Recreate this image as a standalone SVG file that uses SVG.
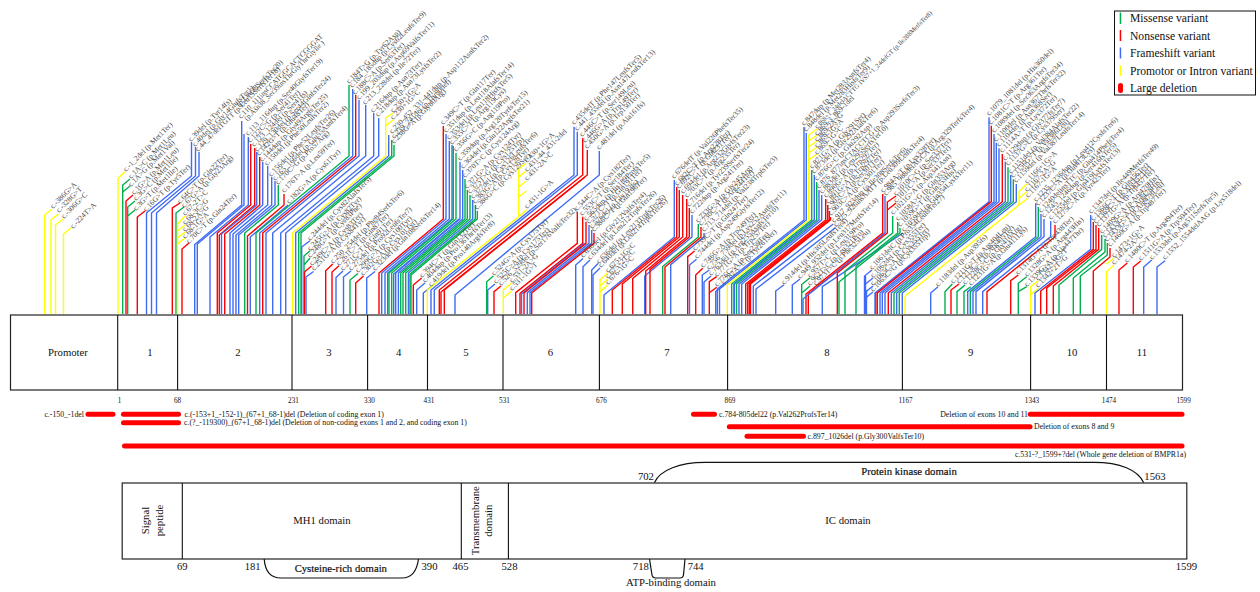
<svg xmlns="http://www.w3.org/2000/svg" width="1260" height="592" viewBox="0 0 1260 592">
<style>
text{font-family:"Liberation Serif","Times New Roman",serif;fill:#111}
.c path,path.m,path.n,path.f,path.p{fill:none;stroke-width:1.4}
.m{stroke:#00B050}.n{stroke:#FF0000}.f{stroke:#3F6CF5}.p{stroke:#FFFF00}
.l text{font-size:7.5px;fill:#444}
.l text.long{font-size:6.5px}
.box{fill:#fff;stroke:#222;stroke-width:1.2}
.dv{stroke:#111;stroke-width:1.1;fill:none}
.t{font-size:10.7px;text-anchor:middle}
.s{font-size:7.8px}
.sm{font-size:7.2px;text-anchor:middle}
.bar{fill:#FF0000}
.arc{fill:none;stroke:#111;stroke-width:1.2}
</style>
<rect width="1260" height="592" fill="#fff"/>
<g id="connectors" class="c">
<path class="p" d="M44.7 314V215L52 209"/><path class="p" d="M51 314V220L58.500 214"/><path class="p" d="M55.500 314V225L63 219"/><path class="p" d="M63.500 314V234L71 228"/>
<path class="p" d="M118 314V178L125 172"/><path class="m" d="M122.700 314V185L130 179"/><path class="m" d="M122.700 192L130 186"/><path class="n" d="M126 314V201L133 195"/><path class="m" d="M127.700 314V207L135 201M127.700 216L135 210"/><path class="n" d="M137.300 314V217L145 211"/>
<path class="f" d="M146.500 314V213L191.500 176V142"/><path class="f" d="M151.500 314V213L195.500 176V147"/><path class="f" d="M156.500 314V213L199 176V152"/>
<path class="n" d="M172.300 314V208L180 203"/><path class="m" d="M176 314V213L184 207"/><path class="p" d="M177.500 314V224L185 216M177.500 231L185 225M177.500 238L185 232M177.500 244L185 238"/><path class="n" d="M182 314V249L189 243"/>
<path class="f" d="M194.700 314V244.500L241.700 205V121"/><path class="f" d="M197.300 314V244L244 205V134"/><path class="f" d="M210 314V237L248.300 205V137"/><path class="n" d="M217.300 314V233L250.700 205V144"/><path class="n" d="M219.300 314V235L254.700 205V148"/><path class="f" d="M221.500 314V234L256.700 205V152"/><path class="n" d="M224.700 314V234L259.700 205V157"/><path class="f" d="M230 314V233L262.700 205V162"/><path class="f" d="M233 314V234L267.700 205V166"/><path class="f" d="M236 314V235L271.700 205V177"/><path class="f" d="M238.700 314V235L275 205V181"/><path class="m" d="M244.700 314V233L278.300 205V185"/><path class="n" d="M247.500 314V236L284 205V194"/><path class="f" d="M250.300 314V237L288 205"/>
<path class="m" d="M256 314V233L349 156V85"/><path class="f" d="M259.700 314V233L352.700 156V89"/><path class="n" d="M262.700 314V233L355.700 156V95"/><path class="f" d="M266 314V233L359 156V100"/><path class="f" d="M272.700 314V233L365.700 156V105"/><path class="f" d="M280.700 314V233L373.700 156V113"/><path class="f" d="M285.700 314V233L378.700 156V118"/><path class="p" d="M292.700 314V233L385.700 156V118L393 113M385.700 126L393 120"/><path class="f" d="M295.700 314V233L388.700 156V135"/><path class="m" d="M298.700 314V233L391.700 156V140"/><path class="m" d="M301 314V233L394 156V145"/>
<path class="f" d="M301.700 314V247L310 240.700"/><path class="m" d="M304 314V256L310 250.700M304 265L310 258"/><path class="n" d="M304.500 314V272L311.500 266"/><path class="f" d="M306 314V277L313.500 271.500"/>
<path class="n" d="M325.700 314V270.700L332.700 264"/><path class="n" d="M332 314V272L339 265.700"/><path class="f" d="M336 314V277.500L343 271"/><path class="f" d="M343.500 314V277L351 271"/><path class="m" d="M350 314V280L358 273.500"/><path class="n" d="M355.700 314V283L363.500 276"/><path class="f" d="M366.700 314V278L375 271.500"/>
<path class="n" d="M379 314V273L443.300 219V126"/><path class="f" d="M381.700 314V273L446 219V134"/><path class="f" d="M385 314V273L449.300 219V141"/><path class="f" d="M387.700 314V273L452 219V145"/><path class="m" d="M389 314V273L453.300 219V146"/><path class="m" d="M391.700 314V273L456 219V153"/><path class="f" d="M393.700 314V274L459 219"/><path class="f" d="M395.700 314V273L460 219V162"/><path class="f" d="M398.400 314V273L462.700 219V170"/><path class="m" d="M400.700 314V273L465 219V179"/><path class="m" d="M403 314V273L467.300 219V190"/><path class="m" d="M405.700 314V273L470 219V195"/><path class="f" d="M408.400 314V273L472.700 219V200"/><path class="m" d="M410 314V274L475.300 219V205"/><path class="m" d="M411 314V275L477.300 219V211"/>
<path class="n" d="M413.300 314V285L421.700 278"/><path class="f" d="M416.700 314V290L425 283"/><path class="f" d="M423.300 314V293L431 286.700"/>
<path class="p" d="M427.300 314V290L518.700 216.700V169L526.200 163M518.700 177L526.200 171M518.700 187L526.200 181M518.700 197L526.200 191M518.700 216.700L526.700 209.700"/>
<path class="f" d="M431 314V290L574 175V126.700"/><path class="f" d="M434.300 314V290L577.300 175V131.700"/><path class="n" d="M439.300 314V290L582.700 175V138"/><path class="n" d="M441 314V292L585 177"/><path class="n" d="M444.300 314V290L587.300 175V150"/><path class="f" d="M455 314V295L599.300 175V151"/>
<path class="m" d="M486.700 314V281.700L493.300 276"/><path class="f" d="M487.700 314V290L495 284"/><path class="n" d="M494 314V291.700L501 286"/><path class="p" d="M503.300 314V290L511.700 283M503.300 297.700L511.700 291"/>
<path class="n" d="M515.700 314V292.600L577.300 243.300V211.700"/><path class="n" d="M520 314V293.400L582.700 243.300V216.700"/><path class="f" d="M521.500 314V294L584.500 243.300"/><path class="n" d="M524 314V293L586 243.300V221.700"/><path class="f" d="M527.300 314V292.600L589 243.300V225"/><path class="f" d="M530 314V292.600L591.700 243.300V230"/><path class="n" d="M531.700 314V293L594 243.300V233"/>
<path class="f" d="M575.700 314V265L583 258.500"/><path class="f" d="M583 314V266.700L590 260"/><path class="f" d="M591.700 314V270L598.300 263.300"/><path class="f" d="M593 314V275L600 268"/>
<path class="p" d="M600 314V280L607.700 272.700M600 286L607.700 279M600 292L607.700 285"/>
<path class="f" d="M604 314V295L674.300 237V180"/><path class="n" d="M612.300 314V290L676.700 237V187"/><path class="n" d="M622.300 314V284L679.300 237V190"/><path class="n" d="M632.700 314V278.500L682.700 237V195"/><path class="f" d="M644.700 314V276L692 237V215"/><path class="n" d="M645.700 314V271L686.700 237V199"/><path class="n" d="M650 314V269.600L689.300 237V208"/><path class="m" d="M662.700 314V266.500L698.300 237V224"/><path class="n" d="M665 314V267L701 237V227"/><path class="f" d="M670.700 314V264.600L704 237V233"/>
<path class="n" d="M687.700 314V256.700L694.500 251"/><path class="f" d="M689.500 314V265L696.500 259.300"/><path class="n" d="M695.700 314V275L702.700 268.300"/><path class="f" d="M702.300 314V275L709.300 270"/><path class="f" d="M704 314V282L711 276"/><path class="n" d="M709.300 314V281.700L716.700 276.700M709.300 292.700L716.700 287.300"/><path class="f" d="M715.700 314V291.700L724 285"/>
<path class="f" d="M717.300 314V289L804 220V127"/><path class="f" d="M719.500 314V289L806.300 220V133"/><path class="p" d="M727.300 314V285L808.700 220V135L817 129M808.700 141L817 135M808.700 147L817 141M808.700 153L817 147M808.700 160L817 154"/><path class="m" d="M731.700 314V284L811.700 220V170"/><path class="m" d="M734 314V284L814 220"/><path class="f" d="M734.300 314V284L814.300 220V175"/><path class="m" d="M736.500 314V284L816.700 220V182"/><path class="f" d="M739 314V284L819 220V190"/><path class="f" d="M741.700 314V284L821.700 220V195"/><path class="n" d="M745.700 314V284L825.700 220V199"/><path class="n" d="M747.700 314V284L827.700 220V205"/><path class="n" d="M749.300 314V284L829.300 220V211"/><path class="n" d="M750.500 314V284L830.500 220V217"/><path class="f" d="M753.300 314V286L833.300 224"/><path class="f" d="M756 314V289L835 228"/>
<path class="f" d="M775.700 314V291L784 284.700"/><path class="f" d="M792.300 314V285L800 279"/><path class="m" d="M801.700 314V284.500L810 277.700M801.700 293L810 286"/>
<path class="n" d="M806 314V294L882.700 233V194"/><path class="n" d="M808.300 314V294L885 233"/><path class="f" d="M803 314V299L885 233V196"/><path class="f" d="M822.300 314V286.700L903 233"/><path class="n" d="M837.300 314V273L887.300 233V202L896 196M887.300 210L896 203"/><path class="m" d="M839 314V282L900 233V228"/><path class="m" d="M845 314V271L892.700 233V216"/><path class="m" d="M856 314V266L897.700 233V222"/>
<path class="f" d="M864.500 314V276L872 270M865.500 284L873 278M865.500 292L873 286M865.500 298L873 292"/><path class="f" d="M865.500 314V276"/><path class="f" d="M866.500 314V290"/>
<path class="n" d="M875.700 314V293L989.700 201.700"/>
<path class="f" d="M875 314V293L989 201.700V117.300"/><path class="n" d="M877.300 314V293L991.300 201.700V125.700"/><path class="f" d="M880 314V293L994 201.700V134"/><path class="f" d="M882.300 314V293L996.300 201.700V142.700"/><path class="f" d="M885 314V293L999 201.700V148.300"/><path class="n" d="M888.300 314V293L1002.300 201.700V154"/><path class="f" d="M891.300 314V293L1005.300 201.700V161.700"/><path class="m" d="M894 314V293L1008 201.700V167.300"/><path class="f" d="M896.700 314V293L1010.700 201.700V175"/><path class="m" d="M899.300 314V293L1013.300 201.700V179.300"/><path class="f" d="M902.300 314V293L1016.300 201.700V184"/><path class="p" d="M905 314V296L1019 205V191.700L1026.700 184M1019 198.300L1026.700 191.700M1019 205L1028 198.300"/>
<path class="f" d="M930.700 314V293L938 286.700"/><path class="m" d="M945 314V291.700L952.300 284"/><path class="n" d="M951 314V290L959 284"/><path class="m" d="M957 314V291.700L965 285"/><path class="m" d="M964 314V291.700L970.700 286.700"/>
<path class="f" d="M967.700 314V291.700L1035.700 236.700V203.300"/><path class="m" d="M970.300 314V291.700L1038.300 236.700V207"/><path class="f" d="M973 314V291.700L1041 236.700V214"/><path class="f" d="M976 314V291.700L1044 236.700V219"/><path class="f" d="M982.700 314V291.700L1050.700 236.700V221"/><path class="n" d="M987 314V291.700L1055 236.700V225"/>
<path class="n" d="M1010.700 314V280.700L1018.300 275"/><path class="m" d="M1018.300 314V283.300L1026.700 276.700M1018.300 291.700L1026.700 286.700"/><path class="p" d="M1030.700 314V286.700L1038.300 280.700M1030.700 295L1038.300 288.300"/>
<path class="f" d="M1035 314V293L1090.700 249.300V215"/><path class="n" d="M1040.700 314V291L1093.300 249.300V222"/><path class="n" d="M1046.700 314V288L1096 249.300V225"/><path class="n" d="M1053.300 314V286L1098.700 249.300V228"/><path class="m" d="M1059 314V285L1101.700 249.300V235"/><path class="m" d="M1073.300 314V278L1105 252V239"/><path class="m" d="M1080.300 314V276L1107.300 255V243"/><path class="n" d="M1093.300 314V271L1110 257V248"/>
<path class="p" d="M1106.300 314V272L1114 265M1106.300 264L1114 258"/><path class="n" d="M1119 314V270L1127.300 263"/><path class="n" d="M1133.300 314V267L1140.700 261"/><path class="f" d="M1143.700 314V267L1151.700 260"/><path class="f" d="M1157 314V267L1165 260.700"/>
</g>
<g id="variant-labels" class="l">
<text transform="translate(53 209)rotate(-45)">c.-386G&gt;A</text><text transform="translate(59 213)rotate(-45)">c.-328G&gt;T</text><text transform="translate(64 219)rotate(-45)">c.-306G&gt;C</text><text transform="translate(73 229)rotate(-45)">c.-224T&gt;A</text>
<text transform="translate(126 172)rotate(-45)">c.-1_2del (p.Met1Ter)</text><text transform="translate(131 179)rotate(-45)">c.1A&gt;C (p.Met1Leu)</text><text transform="translate(131 187)rotate(-45)">c.1A&gt;G (p.Met1Val)</text><text transform="translate(134 195)rotate(-45)">c.1G&gt;A (p.Met1Leu)</text><text transform="translate(136 201)rotate(-45)">c.3G&gt;C (p.Met1Ile)</text><text transform="translate(136 211)rotate(-45)">c.3G&gt;T (p.Met1Ile)</text><text transform="translate(146 212)rotate(-45)">c.16G&gt;T (p.Tyr5Ter)</text>
<text transform="translate(191 142)rotate(-45)">c.39del (p.Tyr14fs)</text><text transform="translate(195 147)rotate(-45)">c.40del (p.Gly14GlufsTer1)</text><text transform="translate(198 152)rotate(-45)">c.44_47delTGTT (p.Leu15SerfsTer18)</text>
<text transform="translate(180 204)rotate(-45)">c.64C&gt;T (p.Gln22Ter)</text><text transform="translate(184 208)rotate(-45)">c.67G&gt;A (p.Gly23Arg)</text><text transform="translate(185 216)rotate(-45)">c.67-2T&gt;C</text><text transform="translate(185 225)rotate(-45)">c.68-3C&gt;G</text><text transform="translate(185 232)rotate(-45)">c.68-2A&gt;G</text><text transform="translate(185 239)rotate(-45)">c.68-1G&gt;A</text><text transform="translate(189 244)rotate(-45)">c.70C&gt;T (p.Gln24Ter)</text>
<text transform="translate(241 119)rotate(-45)" textLength="116" lengthAdjust="spacingAndGlyphs">c.110_111insCCATGGCACTCGGGAT</text><text transform="translate(247 121)rotate(-45)" textLength="110" lengthAdjust="spacingAndGlyphs">(p.Asn38_Ser39insThrGlyThrGlyIle )</text><text transform="translate(239 107)rotate(-45)">(p.Leu38SerfsTer20)</text>
<text transform="translate(248 136)rotate(-45)">c.113_116dup (p.Ser40GlyfsTer19)</text><text transform="translate(250 143)rotate(-45)">c.122C&gt;G (p.Ser41Ter)</text><text transform="translate(254 147)rotate(-45)">c.123_124del (p.Ser41fs)</text><text transform="translate(257 152)rotate(-45)">c.129_130del (p.Ser44GlnfsTer24)</text><text transform="translate(259 156)rotate(-45)">c.142G&gt;T (p.Glu48Ter)</text><text transform="translate(262 162)rotate(-45)">c.144dup (p.Gly49ArgfsTer25)</text><text transform="translate(267 166)rotate(-45)">c.150del (p.Phe50LeufsTer2)</text><text transform="translate(271 177)rotate(-45)">c.156del (p.Phe52LeufsTer26)</text><text transform="translate(275 181)rotate(-45)">c.165_166del (p.Glu55AsnfsTer4)</text><text transform="translate(278 185)rotate(-45)">c.170C&gt;G (p.Pro57Arg)</text><text transform="translate(284 193)rotate(-45)">c.176T&gt;A (p.Leu59Ter)</text><text transform="translate(289 204)rotate(-45)">c.182G&gt;A (p.Cys61Tyr)</text>
<text transform="translate(349 84)rotate(-45)">c.184T&gt;G (p.Tyr62Asp)</text><text transform="translate(352 88)rotate(-45)">c.184_185dup (p.Cys62LeufsTer9)</text><text transform="translate(355 95)rotate(-45)">c.188C&gt;A (p.Ser63Ter)</text><text transform="translate(359 100)rotate(-45)">c.199_203dup (p.Asp69ValfsTer11)</text><text transform="translate(365 105)rotate(-45)">c.213_228del (p.Ile72Ter)</text><text transform="translate(373 113)rotate(-45)">c.216dup (p.Asn73Ter)</text><text transform="translate(378 117)rotate(-45)">c.218dup (p.Asn73LysfsTer2)</text>
<text transform="translate(393 113)rotate(-45)">c.230+1G&gt;A</text><text transform="translate(393 120)rotate(-45)">c.230+1G&gt;C</text><text transform="translate(392 134)rotate(-45)">c.230-452_331-441dup (p.Asp112AsnfsTer2)</text><text transform="translate(394 139)rotate(-45)">c.239_241del (p.Thr80del)</text><text transform="translate(394 144)rotate(-45)">c.238G&gt;A (p.Gly80Arg)</text>
<text transform="translate(310 241)rotate(-45)">c.244del (p.Cys82AlafsTer5)</text><text transform="translate(310 251)rotate(-45)">c.245G&gt;A (p.Cys82Tyr)</text><text transform="translate(310 258)rotate(-45)">c.248G&gt;T (p.Cys83Phe)</text><text transform="translate(312 266)rotate(-45)">c.249C&gt;A (p.Cys83Ter)</text><text transform="translate(314 271)rotate(-45)">c.251G&gt;A (p.Cys84Tyr)</text>
<text transform="translate(333 264)rotate(-45)">c.250_254del (p.Phe84SerfsTer6)</text><text transform="translate(339 266)rotate(-45)">c.261C&gt;T (p.Gln87Ter)</text><text transform="translate(343 271)rotate(-45)">c.271C&gt;T (p.Gln91Ter)</text><text transform="translate(351 271)rotate(-45)">c.275del (p.Pro92LeufsTer7)</text><text transform="translate(358 273)rotate(-45)">c.299G&gt;A (p.Cys100Tyr)</text><text transform="translate(363 276)rotate(-45)">c.302G&gt;A (p.Cys101Tyr)</text><text transform="translate(375 271)rotate(-45)">c.323del (p.Gln108SerfsTer14)</text>
<text transform="translate(443 125)rotate(-45)">c.349C&gt;T (p.Gln117Ter)</text><text transform="translate(446 133)rotate(-45)">c.351dup (p.Leu118AlafsTer14)</text><text transform="translate(449 140)rotate(-45)">c.353del (p.Leu118HisfsTer5)</text><text transform="translate(452 145)rotate(-45)">c.355C&gt;T (p.Arg119Cys)</text><text transform="translate(456 152)rotate(-45)">c.356G&gt;C (p.Arg119Pro)</text><text transform="translate(460 161)rotate(-45)">c.359dup (p.Arg120TyrfsTer15)</text><text transform="translate(463 169)rotate(-45)">c.364del (p.Glu122ArgfsTer21)</text><text transform="translate(465 178)rotate(-45)">c.370T&gt;C (p.Cys124Arg)</text><text transform="translate(467 189)rotate(-45)">c.371G&gt;A (p.Cys124Tyr)</text><text transform="translate(470 194)rotate(-45)">c.375T&gt;G (p.Cys125Trp)</text><text transform="translate(473 199)rotate(-45)">c.377del (p.Cys126LeufsTer6)</text><text transform="translate(475 204)rotate(-45)">c.383G&gt;A (p.Cys128Tyr)</text><text transform="translate(477 210)rotate(-45)">c.386G&gt;C (p.Cys129Ser)</text>
<text transform="translate(422 278)rotate(-45)">c.394C&gt;T (p.Gln132Ter)</text><text transform="translate(425 283)rotate(-45)">c.404dup (p.Pro136ThrfsTer13)</text><text transform="translate(431 287)rotate(-45)">c.419del (p.Pro140ArgfsTer8)</text>
<text transform="translate(527 163)rotate(-45)">c.430+1G&gt;A</text><text transform="translate(527 172)rotate(-45)">c.431-44_431-2del</text><text transform="translate(527 181)rotate(-45)">c.431-2A&gt;C</text><text transform="translate(527 209)rotate(-45)">c.431-1G&gt;A</text>
<text transform="translate(574 125)rotate(-45)">c.435delT (p.Phe147LeufsTer5)</text><text transform="translate(577 131)rotate(-45)">c.441_455del (p.Asn147LeufsTer13)</text><text transform="translate(582 137)rotate(-45)">c.446C&gt;T (p.Ser149Leu)</text><text transform="translate(585 143)rotate(-45)">c.446G&gt;A (p.Trp149Ter)</text><text transform="translate(587 149)rotate(-45)">c.450G&gt;A (p.Trp150Ter)</text><text transform="translate(599 150)rotate(-45)">c.481del (p.Ala161fs)</text>
<text transform="translate(494 276)rotate(-45)">c.524G&gt;A (p.Cys175Tyr)</text><text transform="translate(496 284)rotate(-45)">c.525C&gt;A (p.Cys175Ter)</text><text transform="translate(501 286)rotate(-45)">c.526_529del (p.Ser176ValfsTer32)</text><text transform="translate(512 283)rotate(-45)">c.531-2A&gt;G</text><text transform="translate(512 291)rotate(-45)">c.531-1G&gt;T</text>
<text transform="translate(577 211)rotate(-45)">c.544C&gt;A (p.Cys182Ter)</text><text transform="translate(582 216)rotate(-45)">c.553C&gt;T (p.Ser184Ter)</text><text transform="translate(586 221)rotate(-45)">c.565dup (p.His189ProfsTer5)</text><text transform="translate(589 224)rotate(-45)">c.571C&gt;T (p.Gln191Ter)</text><text transform="translate(592 229)rotate(-45)">c.576del (p.Gly193fs)</text><text transform="translate(594 232)rotate(-45)">c.586C&gt;T (p.Gln196Ter)</text>
<text transform="translate(583 258)rotate(-45)">c.630del (p.Gly212ValfsTer4)</text><text transform="translate(590 260)rotate(-45)">c.634del (p.Leu212TrpfsTer26)</text><text transform="translate(599 264)rotate(-45)">c.636del (p.Leu213TrpfsTer26)</text><text transform="translate(601 268)rotate(-45)">c.640del (p.Leu214TrpfsTer26)</text>
<text transform="translate(608 273)rotate(-45)">c.675+1G&gt;C</text><text transform="translate(608 279)rotate(-45)">c.675+2T&gt;C</text><text transform="translate(608 285)rotate(-45)">c.676-1G&gt;C</text>
<text transform="translate(674 179)rotate(-45)">c.676delT (p.Val226PhefsTer35)</text><text transform="translate(677 186)rotate(-45)">c.682C&gt;T (p.Arg228Ter)</text><text transform="translate(679 189)rotate(-45)">c.692C&gt;T (p.Gln231Ter)</text><text transform="translate(683 194)rotate(-45)">c.694del (p.Arg232GlyfsTer23)</text><text transform="translate(687 198)rotate(-45)">c.703C&gt;T (p.Arg235Ter)</text><text transform="translate(689 207)rotate(-45)">c.716del (p.Tyr239SerfsTer24)</text><text transform="translate(692 214)rotate(-45)">c.722dup (p.Arg241Ter)</text><text transform="translate(698 223)rotate(-45)">c.733G&gt;A (p.Gly245Arg)</text><text transform="translate(701 226)rotate(-45)">c.730C&gt;T (p.Arg244Ter)</text><text transform="translate(704 232)rotate(-45)">c.713_714del (p.Val238TrpfsTer3)</text>
<text transform="translate(695 251)rotate(-45)">c.739C&gt;T (p.Gln247Ter)</text><text transform="translate(697 259)rotate(-45)">c.744del (p.Asp249GlyfsTer12)</text><text transform="translate(703 268)rotate(-45)">c.746G&gt;A (p.Trp249Ter)</text><text transform="translate(709 270)rotate(-45)">c.756_759del (p.Lys252AsnfsTer11)</text><text transform="translate(711 276)rotate(-45)">c.763del (p.Arg255AsnfsTer10)</text><text transform="translate(717 277)rotate(-45)">c.771G&gt;A (p.Trp257Ter)</text><text transform="translate(717 287)rotate(-45)">c.776C&gt;A (p.Ser259Ter)</text><text transform="translate(724 285)rotate(-45)">c.782A&gt;C (p.Tyr261Ser)</text>
<text transform="translate(804 126)rotate(-45)">c.847dup (p.Met283AsnfsTer4)</text><text transform="translate(806 132)rotate(-45)">c.848del (p.Met283HisfsTer9)</text><text class="long" transform="translate(817 129)rotate(-45)">c.868+1_24delACTTG IVS7+1_24delGT (p.Ile288MetfsTer8)</text><text transform="translate(817 136)rotate(-45)">c.869-3_869-1del</text><text transform="translate(817 142)rotate(-45)">c.869-2A&gt;G</text><text transform="translate(817 148)rotate(-45)">c.869-1G&gt;A</text><text transform="translate(817 155)rotate(-45)">c.869-1G&gt;C</text><text transform="translate(812 169)rotate(-45)">c.871G&gt;A (p.Gly291Ser)</text><text transform="translate(814 174)rotate(-45)">c.873del (p.Gly292AlafsTer6)</text><text transform="translate(817 181)rotate(-45)">c.876G&gt;C (p.Glu292Asp)</text><text transform="translate(819 189)rotate(-45)" textLength="143" lengthAdjust="spacingAndGlyphs">c.876_877insCTACCTCG (p.Asp293SerfsTer3)</text><text transform="translate(822 194)rotate(-45)">c.883del (p.Leu295SerfsTer10)</text><text transform="translate(826 198)rotate(-45)">c.890G&gt;A (p.Trp297Ter)</text><text transform="translate(828 204)rotate(-45)">c.891G&gt;A (p.Trp297Ter)</text><text transform="translate(829 210)rotate(-45)">c.902C&gt;A (p.Ser301Ter)</text><text transform="translate(831 216)rotate(-45)">c.903C&gt;A (p.Cys301Ter)</text><text transform="translate(834 223)rotate(-45)">c.917_923dup (p.Ile308SerfsTer6)</text><text transform="translate(836 227)rotate(-45)">c.925_926insAATT (p.Leu309LeufsTer4)</text>
<text transform="translate(784 285)rotate(-45)">c.914del (p.His305LeufsTer4)</text><text transform="translate(800 279)rotate(-45)">c.949_952del (p.Leu317MetfsTer14)</text><text transform="translate(810 278)rotate(-45)">c.957T&gt;C (p.Leu319Pro)</text><text transform="translate(810 286)rotate(-45)">c.962T&gt;C (p.Leu321Pro)</text><text transform="translate(816 286)rotate(-45)">c.973T&gt;C (p.Phe325Leu)</text>
<text transform="translate(883 193)rotate(-45)">c.984A&gt;T (p.Lys328Ter)</text><text transform="translate(886 196)rotate(-45)">c.985_988delAGCA (p.Arg329TerfsTer4)</text><text transform="translate(896 196)rotate(-45)">c.1010C&gt;G (p.Ser337Ter)</text><text transform="translate(896 203)rotate(-45)">c.1011C&gt;A (p.Ser337Ter)</text><text transform="translate(893 215)rotate(-45)">c.1021G&gt;A (p.Asp341Asn)</text><text transform="translate(898 221)rotate(-45)">c.1058A&gt;G (p.Gln353Arg)</text><text transform="translate(900 227)rotate(-45)">c.1059G&gt;T (p.Gln353His)</text><text transform="translate(904 232)rotate(-45)">c.1059del (p.Gln354LysfsTer11)</text>
<text transform="translate(872 270)rotate(-45)">c.1061delC (p.Pro354LeufsTer27)</text><text transform="translate(873 278)rotate(-45)">c.1062del (p.Cys355Ter)</text><text transform="translate(873 286)rotate(-45)">c.1065C&gt;A (p.Cys355Ter)</text><text transform="translate(873 292)rotate(-45)">c.1065C&gt;G (p.Cys355Trp)</text>
<text transform="translate(989 116)rotate(-45)">c.1079_1081del (p.His360del)</text><text transform="translate(991 125)rotate(-45)">c.1081C&gt;T (p.Arg361Ter)</text><text transform="translate(994 133)rotate(-45)">c.1089del (p.Ser363ArgfsTer34)</text><text transform="translate(996 142)rotate(-45)">c.1100del (p.Asn367ThrfsTer32)</text><text transform="translate(999 147)rotate(-45)">c.1104del (p.Asn368Ser)</text><text transform="translate(1002 153)rotate(-45)">c.1114A&gt;T (p.Lys372Ter)</text><text transform="translate(1005 161)rotate(-45)">c.1129dup (p.Gly377fsTer7)</text><text transform="translate(1008 166)rotate(-45)">c.1137G&gt;C (p.Cys379Ser)</text><text transform="translate(1011 174)rotate(-45)">c.1151del (p.Val384AlafsTer22)</text><text transform="translate(1013 178)rotate(-45)">c.1156G&gt;T (p.Val386Leu)</text><text transform="translate(1016 183)rotate(-45)">c.1159del (p.Val387LeufsTer14)</text><text transform="translate(1027 184)rotate(-45)">c.1166+1G&gt;A</text><text transform="translate(1027 192)rotate(-45)">c.1167-2A&gt;G</text><text transform="translate(1028 198)rotate(-45)">c.1167-1G&gt;A</text>
<text transform="translate(938 287)rotate(-45)">c.1183del (p.Asp395fs)</text><text transform="translate(953 284)rotate(-45)">c.1211G&gt;T (p.Arg404Leu)</text><text transform="translate(959 284)rotate(-45)">c.1213C&gt;T (p.Arg405Ter)</text><text transform="translate(965 285)rotate(-45)">c.1228G&gt;C (p.Gly410Arg)</text><text transform="translate(971 286)rotate(-45)">c.1231G&gt;A (p.Glu411Lys)</text>
<text transform="translate(1036 202)rotate(-45)">c.1235_1236dup (p.Leu412CysfsTer6)</text><text transform="translate(1038 206)rotate(-45)">c.1237C&gt;A (p.Gln413Lys)</text><text transform="translate(1041 213)rotate(-45)">c.1240delinsTTC (p.Glu414PhefsTer4)</text><text transform="translate(1044 218)rotate(-45)">c.1245_1246dup (p.Ser416fsTer5)</text><text transform="translate(1051 220)rotate(-45)">c.1255del (p.Gln419LysfsTer13)</text><text transform="translate(1055 224)rotate(-45)">c.1275C&gt;A (p.Tyr425Ter)</text>
<text transform="translate(1018 275)rotate(-45)">c.1314G&gt;A (p.Trp438Ter)</text><text transform="translate(1027 277)rotate(-45)">c.1328G&gt;A (p.Arg443His)</text><text transform="translate(1027 287)rotate(-45)">c.1339G&gt;A (p.Ala447Thr)</text><text transform="translate(1038 281)rotate(-45)">c.1342+1G&gt;T</text><text transform="translate(1038 288)rotate(-45)">c.1342+2T&gt;G</text>
<text transform="translate(1091 214)rotate(-45)">c.1347del (p.Ile449MetfsTer49)</text><text transform="translate(1093 221)rotate(-45)">c.1366C&gt;T (p.Gln456Ter)</text><text transform="translate(1096 224)rotate(-45)">c.1369C&gt;T (p.Arg457Ter)</text><text transform="translate(1099 227)rotate(-45)">c.1371G&gt;A (p.Trp457Ter)</text><text transform="translate(1102 234)rotate(-45)">c.1409G&gt;A (p.Arg470His)</text><text transform="translate(1105 238)rotate(-45)">c.1433G&gt;A (p.Arg478His)</text><text transform="translate(1107 242)rotate(-45)">c.1433G&gt;T (p.Arg478Leu)</text><text transform="translate(1110 247)rotate(-45)">c.1460G&gt;A (p.Trp487Ter)</text>
<text transform="translate(1114 258)rotate(-45)">c.1473+1G&gt;A</text><text transform="translate(1114 265)rotate(-45)">c.1474-2A&gt;G</text><text transform="translate(1127 263)rotate(-45)">c.1480C&gt;T (p.Arg494Ter)</text><text transform="translate(1141 261)rotate(-45)">c.1511G&gt;A (p.Trp504Ter)</text><text transform="translate(1152 260)rotate(-45)">c.1533del (p.Arg511SerfsTer5)</text><text transform="translate(1165 260)rotate(-45)">c.1552_1554delAAG (p.Lys518del)</text>
</g>
<g id="gene-track">
<rect class="box" x="10.500" y="315" width="1172" height="75"/>
<path class="dv" d="M117.700 315V390M177.600 315V390M292 315V390M367.600 315V390M427.500 315V390M503 315V390M599.400 315V390M727.600 315V390M902.400 315V390M1030.600 315V390M1106.500 315V390"/>
</g>
<g id="exon-promoter"><text class="t" x="68" y="355.500">Promoter</text></g>
<g id="exon-1"><text class="t" x="150" y="355.500">1</text></g>
<g id="exon-2"><text class="t" x="238" y="355.500">2</text></g>
<g id="exon-3"><text class="t" x="329" y="355.500">3</text></g>
<g id="exon-4"><text class="t" x="398.600" y="355.500">4</text></g>
<g id="exon-5"><text class="t" x="466" y="355.500">5</text></g>
<g id="exon-6"><text class="t" x="550.400" y="355.500">6</text></g>
<g id="exon-7"><text class="t" x="667" y="355.500">7</text></g>
<g id="exon-8"><text class="t" x="826.900" y="355.500">8</text></g>
<g id="exon-9"><text class="t" x="970.700" y="355.500">9</text></g>
<g id="exon-10"><text class="t" x="1072" y="355.500">10</text></g>
<g id="exon-11"><text class="t" x="1142" y="355.500">11</text></g>
<g id="coordinates">
<text class="sm" x="119.500" y="403">1</text><text class="sm" x="177.500" y="403">68</text><text class="sm" x="293.500" y="403">231</text><text class="sm" x="369.500" y="403">330</text><text class="sm" x="429" y="403">431</text><text class="sm" x="504.500" y="403">531</text><text class="sm" x="601.500" y="403">676</text><text class="sm" x="730" y="403">869</text><text class="sm" x="905.600" y="403">1167</text><text class="sm" x="1032" y="403">1343</text><text class="sm" x="1109" y="403">1474</text><text class="sm" x="1183.600" y="403">1599</text>
</g>
<g id="large-deletions">
<rect class="bar" x="85.500" y="411.800" width="30" height="5" rx="2.500"/><rect class="bar" x="121" y="411.800" width="60" height="5" rx="2.500"/><rect class="bar" x="121" y="420.200" width="60" height="5" rx="2.500"/><rect class="bar" x="122" y="443.500" width="1062.500" height="5" rx="2.500"/><rect class="bar" x="691" y="411.800" width="26" height="5" rx="2.500"/><rect class="bar" x="1027.700" y="411.800" width="156.800" height="5" rx="2.500"/><rect class="bar" x="726.800" y="424.200" width="305.800" height="5" rx="2.500"/><rect class="bar" x="744.500" y="433.800" width="61.500" height="5" rx="2.500"/>
<text class="s" x="84" y="416.700" text-anchor="end">c.-150_-1del</text>
<text class="s" x="184.500" y="416.700">c.(-153+1_-152-1)_(67+1_68-1)del (Deletion of coding exon 1)</text>
<text class="s" x="184" y="425.200">c.(?_-119300)_(67+1_68-1)del (Deletion of non-coding exons 1 and 2, and coding exon 1)</text>
<text class="s" x="719" y="416.700">c.784-805del22 (p.Val262ProfsTer14)</text>
<text class="s" x="1028" y="416.700" text-anchor="end">Deletion of exons 10 and 11</text>
<text class="s" x="1034" y="429.200">Deletion of exons 8 and 9</text>
<text class="s" x="807.500" y="438.900">c.897_1026del (p.Gly300ValfsTer10)</text>
<text class="s" x="1186" y="457.200" text-anchor="end">c.531-?_1599+?del (Whole gene deletion of BMPR1a)</text>
</g>
<g id="protein-track">
<rect class="box" x="122.200" y="483" width="1064.600" height="76"/>
<path class="dv" d="M182.300 483V559M461.300 483V559M508.400 483V559"/>
</g>
<g id="signal-peptide"><text class="t" transform="translate(148.500 520.500)rotate(-90)">Signal</text><text class="t" transform="translate(162.500 520.500)rotate(-90)">peptide</text></g>
<g id="mh1-domain"><text class="t" x="322" y="524">MH1 domain</text></g>
<g id="transmembrane-domain"><text class="t" transform="translate(479 520.700)rotate(-90)">Transmembrane</text><text class="t" transform="translate(492 520.700)rotate(-90)">domain</text></g>
<g id="ic-domain"><text class="t" x="848" y="524">IC domain</text></g>
<g id="cysteine-rich-domain"><path class="arc" d="M264.200 559C265 570 270 578 281 578H402C412 578 417 570 418.500 559"/><text class="t" x="340.800" y="572" stroke="#111" stroke-width=".2">Cysteine-rich domain</text></g>
<g id="atp-binding-domain"><path class="arc" d="M649.500 559L652 575Q652.500 578 656 578H680Q683 578 683.500 575L685 559"/><text class="t" x="671" y="586">ATP-binding domain</text></g>
<g id="protein-kinase-domain"><path class="arc" d="M654.500 482.500C660 470 680 462.300 705 462.300H1094C1120 462.300 1138 470 1143.600 482.500"/><text class="t" x="909" y="475" stroke="#111" stroke-width=".2">Protein kinase domain</text></g>
<g id="domain-coordinates">
<text class="t" x="182.300" y="570">69</text><text class="t" x="252.700" y="570">181</text><text class="t" x="429.500" y="570">390</text><text class="t" x="460.500" y="570">465</text><text class="t" x="509.500" y="570">528</text><text class="t" x="640.800" y="570">718</text><text class="t" x="695.700" y="570">744</text><text class="t" x="1186.400" y="570">1599</text><text class="t" x="645.900" y="480">702</text><text class="t" x="1155" y="480">1563</text>
</g>
<g id="legend">
<rect x="1114.500" y="11" width="141" height="84" fill="#fff" stroke="#111" stroke-width="1"/>
<rect x="1119.700" y="12.500" width="1.500" height="11.500" fill="#00B050"/><rect x="1119.700" y="30" width="1.500" height="11" fill="#FF0000"/><rect x="1119.700" y="47.500" width="1.500" height="11" fill="#3F6CF5"/><rect x="1119.700" y="65.500" width="1.500" height="10.500" fill="#FFFF00"/><rect x="1118" y="83" width="5" height="10" rx="2.500" fill="#FF0000"/>
<text x="1130" y="22" font-size="11.600">Missense variant</text><text x="1130" y="39.500" font-size="11.600">Nonsense variant</text><text x="1130" y="57" font-size="11.600">Frameshift variant</text><text x="1130" y="74.500" font-size="11.600">Promotor or Intron variant</text><text x="1130" y="92" font-size="11.600">Large deletion</text>
</g>
</svg>
